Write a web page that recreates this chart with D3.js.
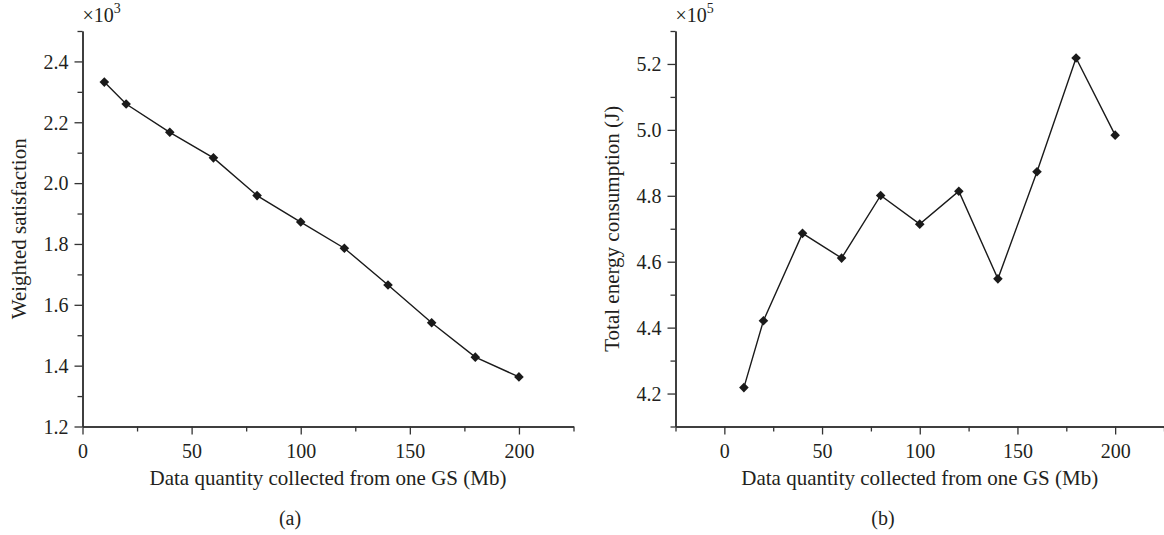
<!DOCTYPE html>
<html>
<head>
<meta charset="utf-8">
<script src="https://cdn.jsdelivr.net/npm/d3@7"></script>
<style>
  html, body { margin: 0; padding: 0; background: #fff; }
  svg { display: block; }
  text { font-family: "Liberation Serif", "DejaVu Serif", serif; fill: #231f20; }
</style>
</head>
<body>
<svg id="chart" width="1164" height="535"></svg>
<script>
// ---------- DATA ----------
const dataQuantity = [10, 20, 40, 60, 80, 100, 120, 140, 160, 180, 200];
// (a) Weighted satisfaction, in units of 10^3
const weightedSatisfaction = [2.332, 2.260, 2.167, 2.083, 1.959, 1.872, 1.786, 1.665, 1.541, 1.428, 1.363];
// (b) Total energy consumption (J), in units of 10^5
const totalEnergy = [4.218, 4.421, 4.686, 4.611, 4.801, 4.714, 4.814, 4.548, 4.873, 5.218, 4.984];

const xTicksA = [0, 50, 100, 150, 200];
const xMinorA = [25, 75, 125, 175, 225];
const yTicksA = [1.2, 1.4, 1.6, 1.8, 2.0, 2.2, 2.4];
const yMinorA = [1.3, 1.5, 1.7, 1.9, 2.1, 2.3, 2.5];

const xTicksB = [0, 50, 100, 150, 200];
const xMinorB = [-25, 25, 75, 125, 175, 225];
const yTicksB = [4.2, 4.4, 4.6, 4.8, 5.0, 5.2];
const yMinorB = [4.1, 4.3, 4.5, 4.7, 4.9, 5.1, 5.3];

const xTitle = "Data quantity collected from one GS (Mb)";

const panels = [
  {
    y: weightedSatisfaction, xDomain: [0, 225], yDomain: [1.2, 2.5],
    xRange: [82.5, 573.5], xTicks: xTicksA, xMinor: xMinorA, yTicks: yTicksA, yMinor: yMinorA,
    yTitle: "Weighted satisfaction", exp: "3", tag: "(a)", tagX: 290, yTitleX: 26
  },
  {
    y: totalEnergy, xDomain: [-25, 225], yDomain: [4.1, 5.3],
    xRange: [675.5, 1164], xTicks: xTicksB, xMinor: xMinorB, yTicks: yTicksB, yMinor: yMinorB,
    yTitle: "Total energy consumption (J)", exp: "5", tag: "(b)", tagX: 883, yTitleX: 619
  }
];

const svg = d3.select("#chart");
const yRange = [426.5, 31];
const axisColor = "#333";

panels.forEach(p => {
  const x = d3.scaleLinear().domain(p.xDomain).range(p.xRange);
  const y = d3.scaleLinear().domain(p.yDomain).range(yRange);
  const g = svg.append("g");

  // minor ticks
  const xMinorAxis = d3.axisBottom(x).tickValues(p.xMinor).tickSize(5).tickFormat("").tickSizeOuter(0);
  const yMinorAxis = d3.axisLeft(y).tickValues(p.yMinor).tickSize(5).tickFormat("").tickSizeOuter(0);
  g.append("g").attr("transform", `translate(0,${yRange[0]})`).call(xMinorAxis);
  g.append("g").attr("transform", `translate(${p.xRange[0]},0)`).call(yMinorAxis);

  // major ticks
  const xAxis = d3.axisBottom(x).tickValues(p.xTicks).tickSize(8).tickPadding(8).tickSizeOuter(0).tickFormat(d3.format("d"));
  const yAxis = d3.axisLeft(y).tickValues(p.yTicks).tickSize(8).tickPadding(6).tickSizeOuter(0).tickFormat(d3.format(".1f"));
  const gx = g.append("g").attr("transform", `translate(0,${yRange[0]})`).call(xAxis);
  const gy = g.append("g").attr("transform", `translate(${p.xRange[0]},0)`).call(yAxis);

  g.selectAll(".domain").attr("stroke", axisColor).attr("stroke-width", 1.5);
  g.selectAll(".tick line").attr("stroke", axisColor).attr("stroke-width", 1.3);
  gx.selectAll(".tick text").attr("font-size", 20)
    .attr("y", 0).attr("dy", 31.5);
  gy.selectAll(".tick text").attr("font-size", 20).attr("dy", "0.34em");

  // line
  const line = d3.line().x((d, i) => x(dataQuantity[i])).y(d => y(d));
  g.append("path").datum(p.y).attr("d", line)
    .attr("fill", "none").attr("stroke", "#1a1a1a").attr("stroke-width", 1.4);

  // diamond markers
  const sym = d3.symbol().type(d3.symbolSquare).size(46);
  g.selectAll("path.pt").data(p.y).enter().append("path").attr("class", "pt")
    .attr("d", sym)
    .attr("transform", (d, i) => `translate(${x(dataQuantity[i])},${y(d)}) rotate(45)`)
    .attr("fill", "#1a1a1a");

  // x title
  g.append("text").attr("x", (p.xRange[0] + p.xRange[1]) / 2).attr("y", 485)
    .attr("text-anchor", "middle").attr("font-size", 21).text(xTitle);

  // y title
  g.append("text")
    .attr("transform", `translate(${p.yTitleX},${(yRange[0] + yRange[1]) / 2}) rotate(-90)`)
    .attr("text-anchor", "middle").attr("font-size", 21).text(p.yTitle);

  // exponent label
  const ex = g.append("text").attr("x", p.xRange[0]).attr("y", 22).attr("font-size", 20);
  ex.append("tspan").text("×10");
  ex.append("tspan").attr("font-size", 14).attr("dy", -9).text(p.exp);

  // panel tag
  g.append("text").attr("x", p.tagX).attr("y", 525).attr("text-anchor", "middle")
    .attr("font-size", 20).text(p.tag);
});
</script>
</body>
</html>
